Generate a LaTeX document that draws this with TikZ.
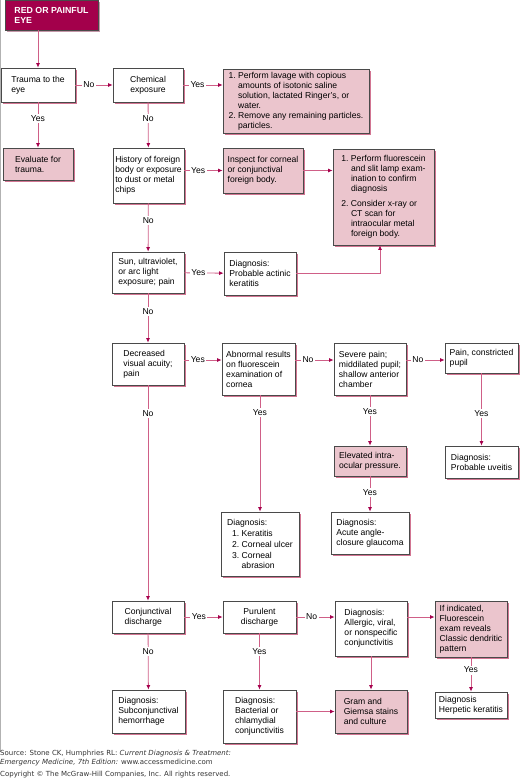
\documentclass[tikz,border=0pt]{standalone}
\usepackage{fontspec}
\setmainfont{Liberation Sans}
\newfontfamily\srcfont{DejaVu Sans}
\usetikzlibrary{arrows.meta,shadows}
\definecolor{titlered}{HTML}{A3004B}
\definecolor{boxpink}{HTML}{EBC5CD}
\definecolor{shadowpink}{HTML}{D27592}
\definecolor{titleshade}{HTML}{C497A8}
\definecolor{linepink}{HTML}{CF5F87}
\definecolor{tipred}{HTML}{A5004C}
\definecolor{edgegray}{HTML}{4A4A4A}
\newcommand{\ind}{\hphantom{1.~}}
\begin{document}
\begin{tikzpicture}[
    x=1pt,y=-1pt,
    font=\fontsize{8.6}{10}\selectfont,
    box/.style={draw=edgegray,line width=0.8pt,fill=white,inner sep=2pt,align=left,
        drop shadow={shadow xshift=2pt,shadow yshift=-2pt,fill=shadowpink,opacity=1}},
    pbox/.style={box,fill=boxpink},
    titlebox/.style={draw=edgegray,line width=0.8pt,fill=titlered,text=white,align=left,
        font=\fontsize{8.8}{10}\selectfont\bfseries,
        drop shadow={shadow xshift=2pt,shadow yshift=-2pt,fill=titleshade,opacity=1}},
    lbl/.style={fill=white,inner sep=1.5pt,text=black,pos=.36},
    arr/.style={-{Latex[length=4.5pt,width=4pt,color=tipred]},draw=linepink,line width=0.8pt}
]
\useasboundingbox (0,0) rectangle (520,781);
\draw[black!30,line width=0.8pt] (0.4,0) -- (0.4,752);

% first column of questions
\node[titlebox,minimum width=93pt,minimum height=30pt] (start) at (51.5,15) {RED OR PAINFUL\\EYE};
\node[box,minimum width=74pt,minimum height=34pt] (trauma) at (38,85) {Trauma to the\\eye};
\node[pbox,minimum width=70pt,minimum height=32pt] (evaluate) at (38,164) {Evaluate for\\trauma.};
\node[box,align=center,minimum width=70pt,minimum height=34pt] (chem) at (148,85) {Chemical\\exposure};
\node[box,minimum width=71pt,minimum height=55pt] (history) at (148.5,175.5) {History of foreign\\body or exposure\\to dust or metal\\chips};
\node[box,minimum width=72pt,minimum height=41pt] (sun) at (148,272.5) {Sun, ultraviolet,\\or arc light\\exposure; pain};
\node[box,minimum width=72pt,minimum height=42pt] (acuity) at (148,364) {Decreased\\visual acuity;\\pain};
\node[box,minimum width=72pt,minimum height=32pt] (conj) at (148,617) {Conjunctival\\discharge};
\node[box,minimum width=73pt,minimum height=43pt] (subconj) at (148.5,711.5) {Diagnosis:\\Subconjunctival\\hemorrhage};

% upper right
\node[pbox,minimum width=146pt,minimum height=64pt] (lavage) at (296,101) {1.~Perform lavage with copious\\\ind amounts of isotonic saline\\\ind solution, lactated Ringer's, or\\\ind water.\\2.~Remove any remaining particles.\\\ind particles.};
\node[pbox,minimum width=80pt,minimum height=45pt] (inspect) at (263,170.5) {Inspect for corneal\\or conjunctival\\foreign body.};
\node[pbox,minimum width=101pt,minimum height=96pt] (fluor) at (383.5,197) {1.~Perform fluorescein\\\ind and slit lamp exam-\\\ind ination to confirm\\\ind diagnosis\\[5pt]2.~Consider x-ray or\\\ind CT scan for\\\ind intraocular metal\\\ind foreign body.};
\node[box,minimum width=72pt,minimum height=43pt] (actinic) at (260,273.5) {Diagnosis:\\Probable actinic\\keratitis};

% visual acuity branch
\node[box,minimum width=73pt,minimum height=52pt] (abnormal) at (258.5,369) {Abnormal results\\on fluorescein\\examination of\\cornea};
\node[box,minimum width=72pt,minimum height=52pt] (severe) at (370,369) {Severe pain;\\middilated pupil;\\shallow anterior\\chamber};
\node[box,minimum width=73pt,minimum height=30pt] (pain) at (481.5,358) {Pain, constricted\\pupil};
\node[pbox,minimum width=72pt,minimum height=30pt] (pressure) at (370,461) {Elevated intra-\\ocular pressure.};
\node[box,minimum width=73pt,minimum height=32pt] (uveitis) at (481.5,462) {Diagnosis:\\Probable uveitis};
\node[box,minimum width=78pt,minimum height=64pt] (keratitis) at (260,544) {Diagnosis:\\[1pt]\hspace{5pt}1.~Keratitis\\[1pt]\hspace{5pt}2.~Corneal ulcer\\[1pt]\hspace{5pt}3.~Corneal\\\hspace{5pt}\ind abrasion};
\node[box,minimum width=78pt,minimum height=42pt] (glaucoma) at (370,533) {Diagnosis:\\Acute angle-\\closure glaucoma};

% discharge branch
\node[box,align=center,minimum width=73pt,minimum height=32pt] (purulent) at (259.5,617) {Purulent\\discharge};
\node[box,minimum width=72pt,minimum height=55pt] (allergic) at (371,628.5) {Diagnosis:\\Allergic, viral,\\or nonspecific\\conjunctivitis};
\node[pbox,minimum width=72pt,minimum height=56pt] (dendritic) at (471,629) {If indicated,\\Fluorescein\\exam reveals\\Classic dendritic\\pattern};
\node[box,minimum width=73pt,minimum height=53pt] (bacterial) at (259.5,716.5) {Diagnosis:\\Bacterial or\\chlamydial\\conjunctivitis};
\node[pbox,minimum width=72pt,minimum height=43pt] (gram) at (371,711.5) {Gram and\\Giemsa stains\\and culture};
\node[box,minimum width=72pt,minimum height=26pt] (herpetic) at (471,705) {Diagnosis\\Herpetic keratitis};

% source lines
\node[anchor=north west,inner sep=0pt,align=left,text=black!80,font=\srcfont\fontsize{7}{9.5}\selectfont] (source) at (0,749.5) {Source: Stone CK, Humphries RL: \textit{Current Diagnosis \& Treatment:}\\\textit{Emergency Medicine, 7th Edition:} www.accessmedicine.com};
\node[anchor=north west,inner sep=0pt,text=black!80,font=\srcfont\fontsize{7}{9.5}\selectfont] (copyright) at (0,770.5) {Copyright \textcopyright{} The McGraw-Hill Companies, Inc. All rights reserved.};

% connectors
\draw[arr] (trauma.north |- start.south) -- (trauma.north);
\draw[arr] (trauma) -- node[lbl]{No} (chem);
\draw[arr] (trauma) -- node[lbl]{Yes} (evaluate);
\draw[arr] (chem.east) -- node[lbl]{Yes} (chem.east -| lavage.west);
\draw[arr] (chem) -- node[lbl]{No} (history);
\draw[arr] (inspect.west -| history.east) -- node[lbl]{Yes} (inspect.west);
\draw[arr] (inspect.east) -- (inspect.east -| fluor.west);
\draw[arr] (history) -- node[lbl]{No} (sun);
\draw[arr] (sun) -- node[lbl]{Yes} (actinic);
\draw[arr] (actinic.east) -| ([xshift=-3.5pt]fluor.south);
\draw[arr] (sun) -- node[lbl]{No} (acuity);
\draw[arr] ([yshift=4pt]acuity.east) -- node[lbl]{Yes} ([yshift=4pt]acuity.east -| abnormal.west);
\draw[arr] ([yshift=9pt]abnormal.east) -- node[lbl,pos=.33]{No} ([yshift=9pt]abnormal.east -| severe.west);
\draw[arr] ([yshift=9pt]severe.east) -- node[lbl,pos=.3]{No} ([yshift=9pt]severe.east -| pain.west);
\draw[arr] (acuity) -- node[lbl,pos=.13]{No} (conj);
\draw[arr] (abnormal.south -| keratitis.north) -- node[lbl,pos=.15]{Yes} (keratitis.north);
\draw[arr] (severe) -- node[lbl,pos=.33]{Yes} (pressure);
\draw[arr] (pain) -- node[lbl,pos=.55]{Yes} (uveitis);
\draw[arr] (pressure) -- node[lbl,pos=.47]{Yes} (glaucoma);
\draw[arr] (conj) -- node[lbl,pos=.38]{Yes} (purulent);
\draw[arr] (conj) -- node[lbl,pos=.32]{No} (subconj);
\draw[arr] (purulent.east) -- node[lbl,pos=.4]{No} (purulent.east -| allergic.west);
\draw[arr] (allergic.east |- purulent.east) -- (dendritic.west |- purulent.east);
\draw[arr] (purulent) -- node[lbl,pos=.32]{Yes} (bacterial);
\draw[arr] (allergic) -- (gram);
\draw[arr] (gram.west -| bacterial.east) -- (gram.west);
\draw[arr] (dendritic) -- node[lbl,pos=.37]{Yes} (herpetic);
\end{tikzpicture}
\end{document}
